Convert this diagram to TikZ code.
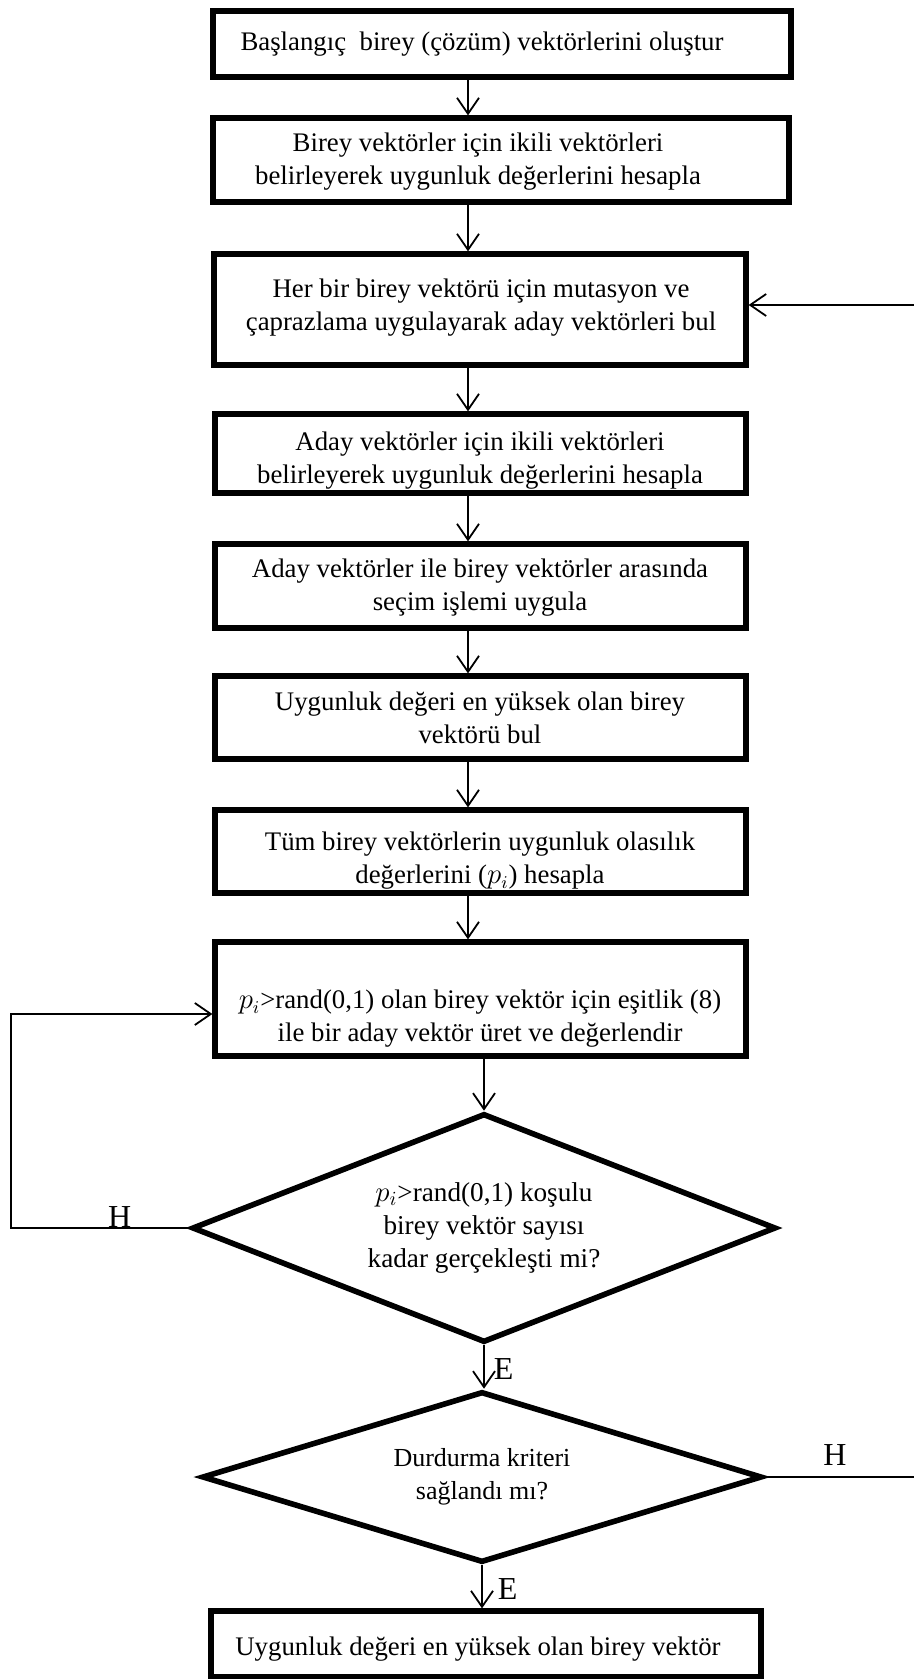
\documentclass[tikz,border=0pt]{standalone}
\usepackage{fontspec}
\setmainfont{Liberation Serif}
\usetikzlibrary{arrows.meta, shapes.geometric}

\begin{document}
\begin{tikzpicture}[
    x=0.5pt, y=-0.5pt,
    >={Straight Barb[length=8pt, width=11pt]},
    every node/.style={font=\fontsize{13.4}{16.5}\selectfont, align=center},
    stepbox/.style={draw, line width=2.6pt, inner sep=0pt},
    steptext/.style={inner sep=0pt},
    decision/.style={draw, diamond, line width=2.8pt, inner sep=0pt},
    flow/.style={->, line width=0.9pt},
    answer/.style={font=\fontsize{16}{16}\selectfont, inner sep=0.5pt},
  ]

  % Background
  \fill[white] (0,0) rectangle (914,1679);
  \useasboundingbox (0,0) rectangle (914,1679);

  % === Process boxes (frame, then its text) ===
  \node[stepbox, minimum width=289pt, minimum height=33pt] (b1) at (502,44) {};
  \node[steptext] (t1) at (482,44)
    {Başlangıç\ \ birey (çözüm) vektörlerini oluştur};

  \node[stepbox, minimum width=288pt, minimum height=42pt] (b2) at (501,160) {};
  \node[steptext] (t2) at (478,162)
    {Birey vektörler için ikili vektörleri\\belirleyerek uygunluk değerlerini hesapla};

  \node[stepbox, minimum width=266pt, minimum height=55.5pt] (b3) at (480,309.5) {};
  \node[steptext] (t3) at (481,308)
    {Her bir birey vektörü için mutasyon ve\\çaprazlama uygulayarak aday vektörleri bul};

  \node[stepbox, minimum width=265.5pt, minimum height=39.5pt] (b4) at (480.5,453.5) {};
  \node[steptext] (t4) at (480,461)
    {Aday vektörler için ikili vektörleri\\belirleyerek uygunluk değerlerini hesapla};

  \node[stepbox, minimum width=265.5pt, minimum height=42pt] (b5) at (480.5,586) {};
  \node[steptext] (t5) at (480,588)
    {Aday vektörler ile birey vektörler arasında\\seçim işlemi uygula};

  \node[stepbox, minimum width=265.5pt, minimum height=41.5pt] (b6) at (480.5,717.5) {};
  \node[steptext] (t6) at (480,718)
    {Uygunluk değeri en yüksek olan birey\\vektörü bul};

  \node[stepbox, minimum width=265.5pt, minimum height=41.5pt] (b7) at (480.5,851.5) {};
  \node[steptext] (t7) at (480,861)
    {Tüm birey vektörlerin uygunluk olasılık\\değerlerini ($p_i$) hesapla};

  \node[stepbox, minimum width=265.5pt, minimum height=57pt] (b8) at (480.5,999) {};
  \node[steptext] (t8) at (480,1019)
    {$p_i$>rand(0,1) olan birey vektör için eşitlik (8)\\ile bir aday vektör üret ve değerlendir};

  % === Decisions ===
  \node[decision, aspect=2.55, minimum width=292pt, minimum height=114.5pt,
        font=\fontsize{13.6}{16.5}\selectfont] (d1) at (484,1228)
    {$p_i$>rand(0,1) koşulu\\birey vektör sayısı\\kadar gerçekleşti mi?};
  \node[decision, aspect=3.27, minimum width=280pt, minimum height=85.5pt,
        font=\fontsize{13}{16.5}\selectfont] (d2) at (482,1477)
    {Durdurma kriteri\\sağlandı mı?};

  % Final result
  \node[stepbox, minimum width=275pt, minimum height=33pt] (b9) at (486,1644) {};
  \node[steptext] (t9) at (478,1649)
    {Uygunluk değeri en yüksek olan birey vektör};

  % === Main flow ===
  \coordinate (ax) at (468,0);
  \foreach \a/\b in {b1/b2, b2/b3, b3/b4, b4/b5, b5/b6, b6/b7, b7/b8}
    \draw[flow] (\a.south -| ax) -- (\b.north -| ax);
  \draw[flow] (b8.south -| d1.north) -- (d1.north);
  \draw[flow] (d1.south) -- node[answer, anchor=west, pos=0.55, xshift=4pt] {E} (d1.south |- d2.north);
  \draw[flow] (d2.south) -- node[answer, anchor=west, pos=0.55, xshift=7pt] {E} (d2.south |- b9.north);

  % === Loops ===
  % H of d1 goes back to b8
  \coordinate (loopL) at (11,1014);
  \draw[flow] (d1.west) -- node[answer, anchor=south, pos=0.39, inner sep=0pt] {H} (d1.west -| loopL)
    -- (loopL) -- (loopL -| b8.west);
  % H of d2 goes back to b3 (outside the picture on the right)
  \coordinate (exitR) at (914,1477);
  \coordinate (loopR) at (914,305);
  \draw[line width=0.9pt] (d2.east) -- node[answer, anchor=south, pos=0.47, yshift=5pt] {H} (exitR);
  \draw[flow] (loopR) -- (loopR -| b3.east);

\end{tikzpicture}
\end{document}
